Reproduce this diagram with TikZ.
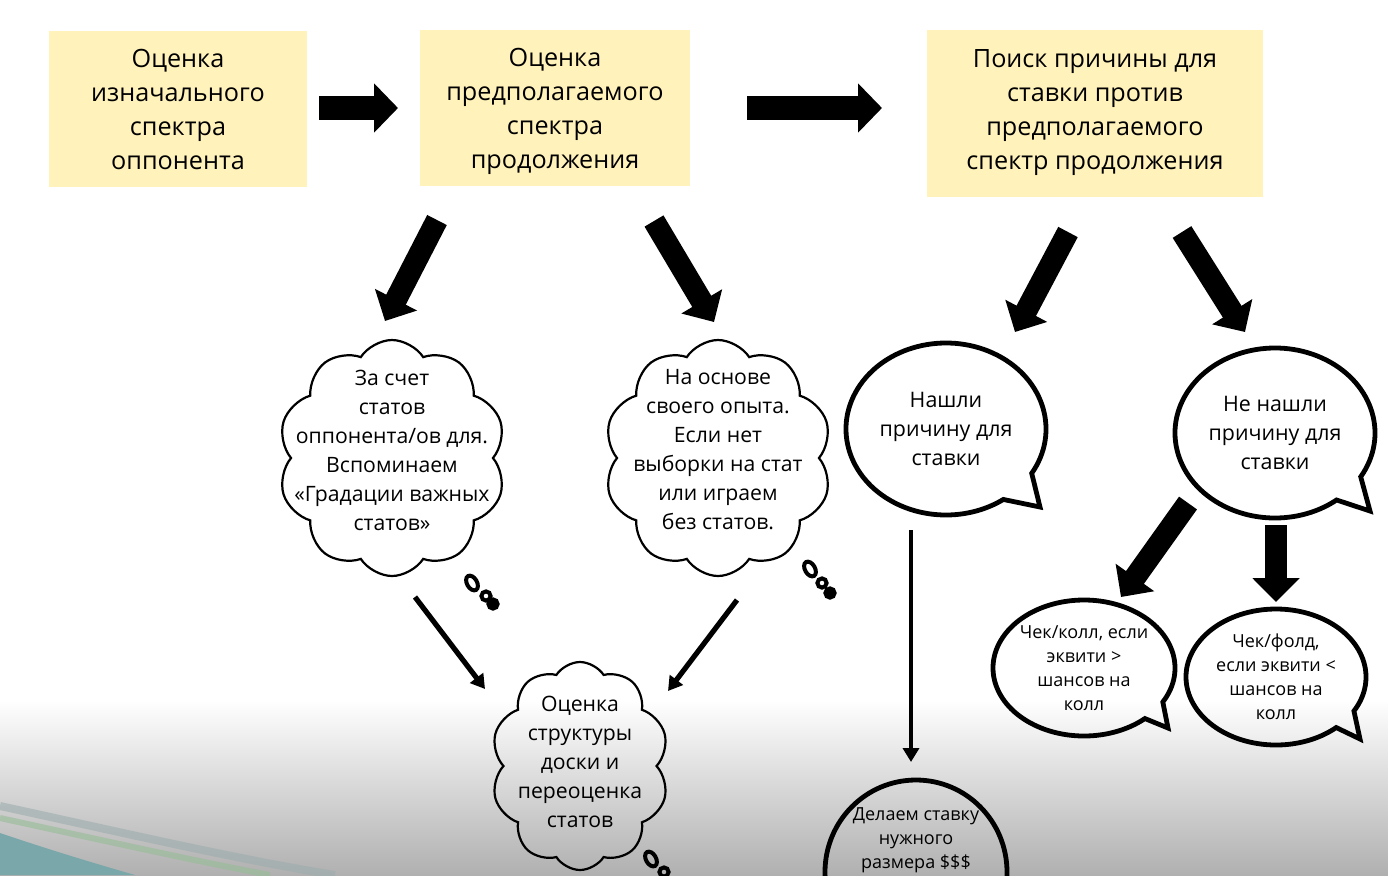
\documentclass[tikz,border=0pt]{standalone}
\usepackage{fontspec}
\setmainfont{Open Sans}
\usepackage{xcolor}
\usetikzlibrary{arrows.meta,positioning,shapes.geometric,shapes.symbols}
\definecolor{stageyellow}{RGB}{255,243,187}
\definecolor{slidegray}{RGB}{176,176,176}
\definecolor{swoosh}{RGB}{104,164,166}
\tikzset{
  stage/.style      = {fill=stageyellow, align=center, inner sep=0pt,
                       font=\fontsize{12.6}{17}\selectfont},
  thought/.style    = {draw, line width=1.1pt, cloud, cloud puffs=10,
                       cloud puff arc=115, cloud ignores aspect, inner sep=0pt},
  thoughttxt/.style = {align=center, font=\fontsize{10.6}{14.5}\selectfont},
  bubbletxt/.style  = {align=center, font=\fontsize{10.7}{14.5}\selectfont},
  smalltxt/.style   = {align=center, font=\fontsize{9}{12}\selectfont},
  bubbleline/.style = {draw, line width=2.4pt, line join=miter},
  bigarrow/.style   = {line width=11pt, -{Triangle[length=12pt,width=23pt]}},
  thinarrow/.style  = {line width=2.6pt, -{Triangle[length=7pt,width=8pt]}},
  dotring/.style    = {draw, line width=2pt, ellipse, inner sep=0pt},
}
\begin{document}
\begin{tikzpicture}[x=0.5pt,y=-0.5pt]
\useasboundingbox (0,0) rectangle (1388,875);
\clip (0,0) rectangle (1388,875);
% slide background
\fill[white] (0,0) rectangle (1388,700);
\shade[top color=white, bottom color=slidegray] (0,700) rectangle (1388,875);
\fill[swoosh!75!slidegray] (0,833) .. controls (50,850) and (100,865) .. (135,875) -- (0,875) -- cycle;
\draw[swoosh!25!slidegray, line width=4pt, opacity=.6] (0,806) .. controls (120,832) and (240,860) .. (335,875);
\draw[green!15!slidegray, line width=3pt, opacity=.6] (0,818) .. controls (110,842) and (200,862) .. (270,875);

% top row
\node[stage, minimum width=129pt, minimum height=78pt] (spec1) at (178,109)
  {Оценка\\изначального\\спектра\\оппонента};
\node[stage, minimum width=135pt, minimum height=78pt, text depth=0pt] (spec2) at (555,108)
  {Оценка\\предполагаемого\\спектра\\продолжения};
\node[stage, minimum width=168pt, minimum height=83.5pt] (reason) at (1095,113)
  {Поиск причины для\\ставки против\\предполагаемого\\спектр продолжения};

\coordinate (r1a) at (319,108); \coordinate (r1b) at (398,108);
\coordinate (r2a) at (747,108); \coordinate (r2b) at (882,108);
\draw[bigarrow, line width=12pt, -{Triangle[length=12pt,width=24pt]}] (r1a) -- (r1b);
\draw[bigarrow, line width=12pt, -{Triangle[length=12pt,width=24pt]}] (r2a) -- (r2b);

% clouds
\node[thought, minimum width=114pt, minimum height=118pt] (stats) at (392,458) {};
\node[thoughttxt] (statstxt) at (392,450)
  {За счет\\статов\\оппонента/ов для.\\Вспоминаем\\«Градации важных\\статов»};
\node[thought, minimum width=114pt, minimum height=118pt] (exp) at (718,458) {};
\node[thoughttxt] (exptxt) at (718,450)
  {На основе\\своего опыта.\\Если нет\\выборки на стат\\или играем\\без статов.};
\node[thought, minimum width=89pt, minimum height=104pt] (board) at (580,766) {};
\node[thoughttxt] (boardtxt) at (580,762)
  {Оценка\\структуры\\доски и\\переоценка\\статов};

% thought dots
\node[dotring, minimum width=5pt, minimum height=8pt, rotate=30] (sd1) at (472,583) {};
\node[dotring, minimum size=4.6pt] (sd2) at (486,596) {};
\node[dotring, fill, minimum size=4.6pt] (sd3) at (493,604) {};
\node[dotring, minimum width=5pt, minimum height=8pt, rotate=30] (ed1) at (810,569) {};
\node[dotring, minimum size=4.6pt] (ed2) at (822,583) {};
\node[dotring, fill, minimum size=4.6pt] (ed3) at (830,593) {};
\node[dotring, minimum width=5pt, minimum height=8pt, rotate=30] (bd1) at (651,859) {};
\node[dotring, minimum size=4.6pt] (bd2) at (664,872) {};

\coordinate (d1a) at (437,220); \coordinate (d1b) at (385,321);
\coordinate (d2a) at (654,221); \coordinate (d2b) at (714,322);
\draw[bigarrow] (d1a) -- (d1b);
\draw[bigarrow] (d2a) -- (d2b);

\coordinate (t1a) at (415,597); \coordinate (t1b) at (485,689);
\coordinate (t2a) at (737,600); \coordinate (t2b) at (668,691);
\draw[thinarrow] (t1a) -- (t1b);
\draw[thinarrow] (t2a) -- (t2b);

% speech bubbles
\node[bubbletxt] (found) at (946,429) {Нашли\\причину для\\ставки};
\draw[bubbleline] ([shift={(-31:50pt and 43pt)}]found.center)
  arc[start angle=-31, end angle=305, x radius=50pt, y radius=43pt]
  -- ([shift={(47pt,-39pt)}]found.center) -- cycle;
\node[bubbletxt] (notfound) at (1275,433) {Не нашли\\причину для\\ставки};
\draw[bubbleline] ([shift={(-31:50pt and 42.5pt)}]notfound.center)
  arc[start angle=-31, end angle=308, x radius=50pt, y radius=42.5pt]
  -- ([shift={(47.5pt,-39pt)}]notfound.center) -- cycle;

\coordinate (d3a) at (1068,232); \coordinate (d3b) at (1015,332);
\coordinate (d4a) at (1182,232); \coordinate (d4b) at (1245,332);
\draw[bigarrow] (d3a) -- (d3b);
\draw[bigarrow] (d4a) -- (d4b);
\coordinate (d5a) at (1188,503); \coordinate (d5b) at (1121,597);
\coordinate (d6a) at (1276,525); \coordinate (d6b) at (1276,602);
\draw[bigarrow] (d5a) -- (d5b);
\draw[bigarrow] (d6a) -- (d6b);

\node[smalltxt] (call) at (1084,668) {Чек/колл, если\\эквити >\\шансов на\\колл};
\draw[bubbleline] ([shift={(-30:45.5pt and 34pt)}]call.center)
  arc[start angle=-30, end angle=312, x radius=45.5pt, y radius=34pt]
  -- ([shift={(42pt,-30pt)}]call.center) -- cycle;
\node[smalltxt] (fold) at (1276,677) {Чек/фолд,\\если эквити <\\шансов на\\колл};
\draw[bubbleline] ([shift={(-30:45pt and 34pt)}]fold.center)
  arc[start angle=-30, end angle=312, x radius=45pt, y radius=34pt]
  -- ([shift={(42pt,-31pt)}]fold.center) -- cycle;

\node[smalltxt] (bet) at (916,840) {Делаем ставку\\нужного\\размера \$\$\$};
\draw[bubbleline] ([yshift=-16pt]bet.center) ellipse[x radius=45.5pt, y radius=46pt];

\coordinate (v1a) at (911,530); \coordinate (v1b) at (911,762);
\draw[thinarrow, line width=2.2pt] (v1a) -- (v1b);
\end{tikzpicture}
\end{document}
